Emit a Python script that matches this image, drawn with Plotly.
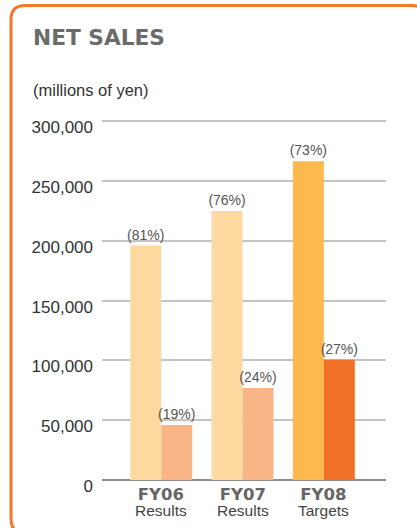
import plotly.graph_objects as go

# ---- data ----
categories = ["FY06", "FY07", "FY08"]
sublabels = ["Results", "Results", "Targets"]
series_a = [196000, 225000, 266500]
series_b = [46000, 77000, 100500]
labels_a = ["(81%)", "(76%)", "(73%)"]
labels_b = ["(19%)", "(24%)", "(27%)"]
colors_a = ["#FED9A0", "#FED9A0", "#FDB94E"]
colors_b = ["#F9B487", "#F9B487", "#F07126"]
y_ticks = [0, 50000, 100000, 150000, 200000, 250000, 300000]
y_ticktext = ["0", "50,000", "100,000", "150,000", "200,000", "250,000", "300,000"]
title_text = "NET SALES"
unit_text = "(millions of yen)"

# ---- layout geometry (pixels) ----
W, H = 417, 528
Y_TOP = 301000
ML, MR, MB = 102, 31, 48
MT = 121 - round(359 * (Y_TOP - 300000) / 300000)
PW, PH = W - ML - MR, H - MT - MB


def px_x(px):
    return (px - ML) / PW


def px_y(py):
    return (H - MB - py) / PH


fig = go.Figure()
fig.add_trace(go.Bar(
    x=categories, y=series_a, marker=dict(color=colors_a, line=dict(width=0)),
    text=labels_a, textposition="outside", constraintext="none", cliponaxis=False,
    textfont=dict(family="Liberation Sans", size=14, color="#555555"),
    hoverinfo="skip",
))
fig.add_trace(go.Bar(
    x=categories, y=series_b, marker=dict(color=colors_b, line=dict(width=0)),
    text=labels_b, textposition="outside", constraintext="none", cliponaxis=False,
    textfont=dict(family="Liberation Sans", size=14, color="#555555"),
    hoverinfo="skip",
))

annotations = [
    dict(text="<b>" + title_text + "</b>", xref="paper", yref="paper",
         x=px_x(31), y=px_y(38), xanchor="left", yanchor="middle", showarrow=False,
         font=dict(family="DejaVu Sans", size=21.7, color="#6B6B6B")),
    dict(text=unit_text, xref="paper", yref="paper",
         x=px_x(31), y=px_y(90), xanchor="left", yanchor="middle", showarrow=False,
         font=dict(family="Liberation Sans", size=16.5, color="#333333")),
]
for c, s in zip(categories, sublabels):
    label = ("<span style='font-family:DejaVu Sans;font-size:16.5px;color:#666666'><b>"
             + c + "</b></span><br>"
             + "<span style='font-size:15.5px'>" + s + "</span>")
    annotations.append(dict(text=label, xref="x", yref="paper", x=c,
                            y=px_y(501.5), xanchor="center", yanchor="middle",
                            showarrow=False, borderpad=0,
                            font=dict(family="Liberation Sans", size=12.5, color="#444444")))

# rounded border
L, T, R, B, r = 11, 5.5, 426, 533, 14
path = (
    f"M {px_x(L)},{px_y(T + r)} Q {px_x(L)},{px_y(T)} {px_x(L + r)},{px_y(T)} "
    f"L {px_x(R - r)},{px_y(T)} Q {px_x(R)},{px_y(T)} {px_x(R)},{px_y(T + r)} "
    f"L {px_x(R)},{px_y(B - r)} Q {px_x(R)},{px_y(B)} {px_x(R - r)},{px_y(B)} "
    f"L {px_x(L + r)},{px_y(B)} Q {px_x(L)},{px_y(B)} {px_x(L)},{px_y(B - r)} Z"
)

fig.update_layout(
    width=W, height=H,
    margin=dict(l=ML, r=MR, t=MT, b=MB, pad=0),
    paper_bgcolor="white", plot_bgcolor="white",
    barmode="group", bargap=0.238, bargroupgap=0,
    showlegend=False,
    annotations=annotations,
    shapes=[dict(type="path", path=path, xref="paper", yref="paper",
                 line=dict(color="#F4772C", width=3), layer="above")],
    xaxis=dict(range=[-0.729, 2.765], showticklabels=False, showgrid=False,
               zeroline=False, showline=False, fixedrange=True),
    yaxis=dict(range=[0, Y_TOP], tickvals=y_ticks, ticktext=y_ticktext,
               showgrid=True, gridcolor="#C4C4C4", gridwidth=1.5,
               zeroline=True, zerolinecolor="#8C8C8C", zerolinewidth=2,
               showline=False, ticks="", ticklabelstandoff=8, ticklabelshift=6,
               tickfont=dict(family="Liberation Sans", size=17, color="#333333"),
               fixedrange=True),
)

fig.write_html("out.html", config={"displayModeBar": False},
               post_script="document.body.style.margin='0';")
